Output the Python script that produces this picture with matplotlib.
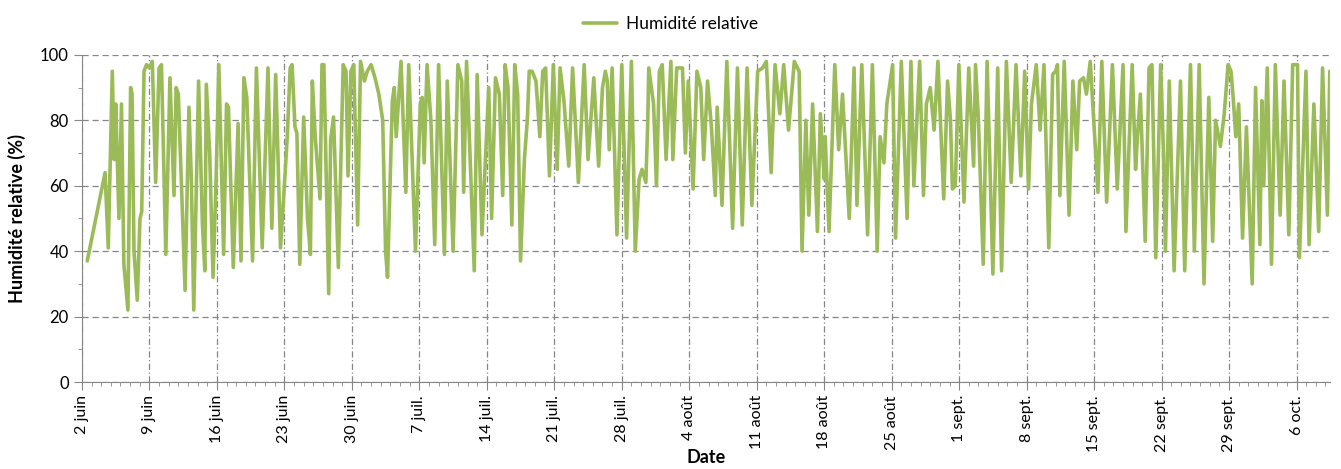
import matplotlib
matplotlib.use("Agg")
import matplotlib.pyplot as plt
from matplotlib.ticker import MultipleLocator

plt.rcParams['font.family'] = ['Lato', 'DejaVu Sans']

# jours depuis le 2 juin 00h00
jours = [0.55, 2.4, 2.73, 3.15, 3.35, 3.5, 3.84, 4.1, 4.35, 4.77, 5.05, 5.2, 5.4, 5.74, 6.02, 6.2, 6.44, 6.7, 7.0, 7.3,
         7.65, 8.0, 8.25, 8.7, 9.13, 9.55, 9.77, 10.0, 10.7, 11.1,
         11.35, 11.6, 12.1, 12.5, 12.75, 12.9, 13.25, 13.6, 13.9, 14.2, 14.7, 15.0, 15.2, 15.7, 16.2, 16.5, 16.8, 17.1,
         17.7, 18.1, 18.7, 19.3, 19.7, 20.1, 20.6, 21.0, 21.3, 21.6,
         21.8, 22.1, 22.3, 22.6, 23.0, 23.4, 23.7, 23.9, 24.2, 24.7, 24.9, 25.1, 25.6, 25.8, 26.1, 26.6, 27.1, 27.4,
         27.6, 27.9, 28.2, 28.6, 28.9, 29.3, 29.6, 30.0, 30.4, 30.8, 31.2, 31.5, 31.7, 32.2, 32.4, 32.6, 33.1,
         33.6, 33.9, 34.6, 35.1, 35.3, 35.5, 35.8, 36.2, 36.6, 37.0, 37.6, 37.9, 38.5, 39.0, 39.4, 39.6, 39.9, 40.7,
         41.0, 41.5, 42.2, 42.5, 42.9, 43.3, 43.65, 43.9,
         44.2, 44.6, 44.9, 45.2, 45.5, 45.9, 46.2, 46.4, 46.7, 47.1, 47.5, 47.8, 48.1, 48.5, 48.9, 49.3, 49.6, 50.0,
         50.5, 50.9, 51.5, 52.1, 52.5, 53.1, 53.6, 54.0, 54.3,
         54.5, 54.7, 55.0, 55.5, 56.0, 56.5, 57.0, 57.4, 57.8, 58.1, 58.5, 58.7, 58.8, 59.3, 59.6, 59.9, 60.2, 60.6,
         61.1, 61.3, 61.7, 62.3, 62.6, 62.9, 63.4, 63.8, 64.2, 64.5, 64.9,
         65.3, 65.7, 65.9, 66.4, 66.9, 67.5, 68.0, 68.5, 69.0, 69.5, 70.1, 70.6, 71.0, 71.5, 71.9, 72.4, 72.8, 73.3,
         73.9, 74.4, 74.7, 75.1, 75.4, 75.8, 76.3,
         76.6, 77.0, 77.1, 77.5, 78.1, 78.5, 78.9, 79.6, 80.1, 80.4, 80.9, 81.5, 82.0, 82.5, 82.8, 83.2, 83.5, 84.1,
         84.4, 85.0, 85.6, 86.0, 86.3, 86.9,
         87.3, 87.6, 88.0, 88.4, 88.8, 89.4, 89.8, 90.1, 90.3, 90.6, 90.97, 91.5, 92.0, 92.5, 92.7, 93.0, 93.5, 93.9,
         94.5, 95.0, 95.4, 95.9, 96.4, 96.9, 97.4, 97.8,
         98.2, 98.5, 99.0, 99.4, 99.8, 100.3, 100.7, 101.0, 101.2, 101.45, 101.9, 102.4, 102.8, 103.2, 103.5, 103.9,
         104.2, 104.6, 105.4, 105.8, 106.3, 106.9, 107.4, 108.0, 108.3, 108.7,
         108.95, 109.3, 109.5, 109.8, 110.3, 110.7, 111.0, 111.4, 111.9, 112.2, 112.4, 112.8, 113.3, 113.96, 114.4,
         115.0, 115.4, 115.9, 116.4, 116.9, 117.3, 117.6, 118.1, 118.5, 118.9,
         119.2, 119.4, 119.7, 120.0, 120.4, 120.8, 121.4, 121.75, 122.2, 122.4, 122.6, 122.96, 123.4, 123.8, 124.3,
         124.7, 125.2, 125.6, 126.1, 126.3, 126.98, 127.3, 127.8, 128.3, 128.7, 129.2, 129.45, 129.6]

humidite = [37, 64, 41, 95, 68, 85, 50, 85, 36, 22, 90, 88, 40, 25, 50, 52, 95, 97, 96, 98,
            61, 96, 97, 39, 93, 57, 90, 88, 28, 84,
            62, 22, 92, 48, 34, 91, 70, 32, 60, 97, 39, 85, 84, 35, 79, 37, 93, 87,
            37, 96, 41, 96, 47, 94, 41, 60, 75, 96,
            97, 78, 76, 36, 81, 50, 39, 92, 75, 56, 97, 97, 27, 74, 81, 35, 97, 95,
            63, 95, 97, 48, 98, 92, 95, 97, 93, 88, 80, 40, 32, 86, 90, 75, 98,
            58, 97, 40, 85, 87, 67, 97, 80, 42, 97, 39, 92, 40, 97, 92, 58, 98, 34,
            94, 45, 90, 50, 93, 88, 57, 97,
            90, 48, 97, 88, 37, 68, 80, 95, 95, 92, 75, 95, 96, 63, 97, 65, 96, 86,
            66, 96, 61, 97, 68, 93, 66, 90, 95,
            92, 71, 96, 45, 97, 44, 98, 40, 62, 65, 61, 80, 96, 85, 60, 95, 97, 68,
            98, 68, 96, 96, 70, 92, 59, 95, 90, 68, 92,
            78, 57, 84, 54, 98, 47, 96, 48, 96, 54, 95, 96, 98, 64, 97, 82, 97, 77,
            98, 95, 40, 80, 51, 85, 46,
            82, 62, 75, 46, 97, 71, 88, 50, 96, 54, 97, 45, 97, 40, 75, 67, 85, 97,
            44, 98, 50, 98, 60, 98,
            57, 85, 90, 77, 98, 56, 92, 80, 59, 60, 97, 55, 96, 66, 97, 80, 36, 98,
            33, 96, 34, 98, 61, 97, 63, 95,
            59, 85, 97, 77, 97, 41, 94, 95, 97, 57, 98, 51, 92, 71, 92, 93,
            88, 98, 58, 98, 55, 97, 59, 97, 46, 78,
            97, 65, 75, 88, 43, 96, 97, 38, 97, 70, 40, 92, 34, 92, 34,
            97, 40, 97, 30, 87, 43, 80, 72, 82, 97,
            95, 88, 75, 85, 44, 78, 30, 90, 42, 86, 60, 96, 36, 97, 51,
            92, 45, 97, 97, 38, 95, 42, 85, 46, 96, 51, 95, 73]

etiquettes = ["2 juin", "9 juin", "16 juin", "23 juin", "30 juin", "7 juil.", "14 juil.", "21 juil.",
              "28 juil.", "4 août", "11 août", "18 août", "25 août", "1 sept.", "8 sept.", "15 sept.",
              "22 sept.", "29 sept.", "6 oct."]

vert = '#9BBB59'
gris = '#868686'

fig = plt.figure(figsize=(13.41, 4.69), dpi=100)
ax = fig.add_axes([0.0611, 0.1855, 0.9309, 0.6975])

ax.plot(jours, humidite, color=vert, lw=2.6, solid_joinstyle='round', solid_capstyle='round',
        label="Humidité relative")

ax.set_xlim(0, 129.5)
ax.set_ylim(0, 100)
ax.set_xticks([7 * i for i in range(len(etiquettes))])
ax.set_xticklabels(etiquettes, rotation=90, fontsize=11.5)
ax.xaxis.set_minor_locator(MultipleLocator(1))
ax.yaxis.set_major_locator(MultipleLocator(20))
ax.yaxis.set_minor_locator(MultipleLocator(10))
ax.tick_params(axis='y', labelsize=12)
ax.tick_params(which='major', length=6, color=gris)
ax.tick_params(which='minor', length=3, color=gris)

ax.grid(axis='y', which='major', color=gris, linestyle=(0, (5, 3)), lw=0.9)
ax.grid(axis='x', which='major', color=gris, linestyle=(0, (5, 2, 1, 2)), lw=0.9)

for s in ['top', 'right']:
    ax.spines[s].set_visible(False)
for s in ['left', 'bottom']:
    ax.spines[s].set_color(gris)

ax.set_ylabel("Humidité relative (%)", fontsize=13, fontweight='bold', labelpad=10)
ax.set_xlabel("Date", fontsize=13, fontweight='bold')
ax.xaxis.set_label_coords(0.5, -0.205)

fig.legend(loc='upper center', bbox_to_anchor=(0.5, 1.0), frameon=False, fontsize=12.5,
           handlelength=2.0, handletextpad=0.5)

fig.savefig("out.png", dpi=100)
